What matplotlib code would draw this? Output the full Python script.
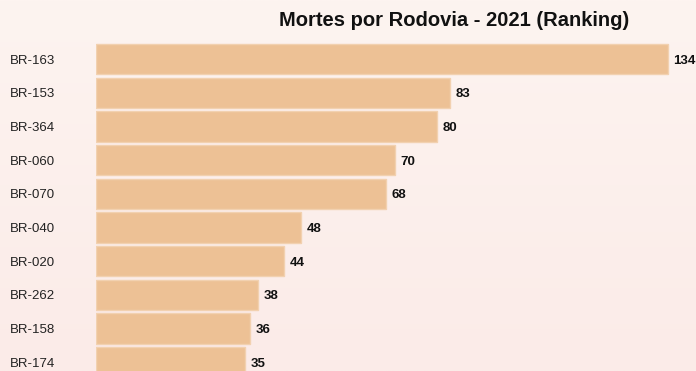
import numpy as np
import matplotlib
matplotlib.use("Agg")
import matplotlib.pyplot as plt
from matplotlib.transforms import blended_transform_factory

plt.rcParams['font.family'] = ['Liberation Sans', 'DejaVu Sans']

rodovias = ["BR-163", "BR-153", "BR-364", "BR-060", "BR-070",
            "BR-040", "BR-020", "BR-262", "BR-158", "BR-174"]
mortes = [134, 83, 80, 70, 68, 48, 44, 38, 36, 35]

W, H = 696, 371
fig = plt.figure(figsize=(W / 100, H / 100), dpi=100)

# soft vertical background gradient
bg = fig.add_axes([0, 0, 1, 1], zorder=-10)
top = np.array([253, 244, 240]) / 255
bot = np.array([251, 235, 232]) / 255
t = np.linspace(0, 1, 256)[:, None]
grad = top * (1 - t) + bot * t
bg.imshow(grad[:, None, :].repeat(2, axis=1), aspect="auto", extent=[0, 1, 0, 1])
bg.axis("off")

x0 = 96 / W
ax = fig.add_axes([x0, 0, 1 - x0, (H - 40) / H])
ax.patch.set_alpha(0)

y = np.arange(len(rodovias))
ax.barh(y, mortes, height=0.9, color="#EDC195", edgecolor="#F2D1B0", linewidth=1)

for yi, v in zip(y, mortes):
    ax.annotate(str(v), (v, yi), xytext=(4, 0), textcoords="offset points",
                va="center_baseline", ha="left",
                fontsize=9.5, fontweight="bold", color="#111111")

ax.set_xlim(0, 140.56)
ax.set_ylim(9.258, -0.564)
ax.set_xticks([])
ax.set_yticks([])
for s in ax.spines.values():
    s.set_visible(False)

# road names, left aligned near the figure edge
lbl_tr = blended_transform_factory(fig.transFigure, ax.transData)
for yi, name in zip(y, rodovias):
    ax.text(10 / W, yi, name, transform=lbl_tr,
            va="center_baseline", ha="left", fontsize=9.5, color="#222222")

fig.text(454 / W, 1 - 21 / H, "Mortes por Rodovia - 2021 (Ranking)",
         ha="center", va="center", fontsize=14.5, fontweight="bold", color="#111111")

fig.savefig("out.png", dpi=100)
